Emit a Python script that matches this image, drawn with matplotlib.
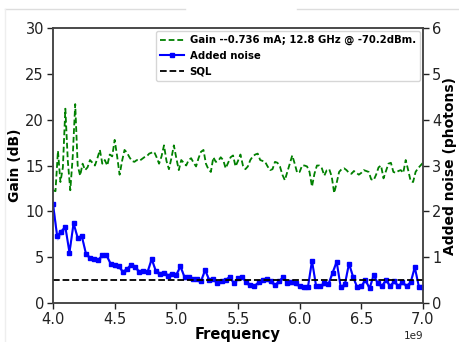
import numpy as np
import matplotlib
matplotlib.use("Agg")
import matplotlib.pyplot as plt
from matplotlib.lines import Line2D

# gain trace, 4.00 .. 7.00 GHz every 20 MHz
gain_db = [
    12.3, 12.2, 16.6, 13.2, 14.8, 21.2, 15.5, 12.3, 16.0, 21.7,
    15.0, 13.9, 15.2, 14.5, 14.8, 15.6, 15.3, 15.0, 15.8, 16.7,
    15.2, 15.6, 15.0, 16.2, 16.0, 17.8, 16.0, 14.0, 15.5, 16.7,
    16.4, 15.9, 15.5, 15.4, 15.6, 15.5, 15.7, 15.9, 16.0, 16.3,
    16.4, 16.5, 15.9, 15.2, 16.0, 17.2, 15.5, 14.6, 15.8, 17.2,
    15.8, 14.5, 15.6, 15.3, 15.0, 15.6, 15.8, 15.3, 14.9, 15.8,
    16.5, 16.7, 15.2, 14.6, 14.3, 15.9, 15.4, 15.5, 15.9, 15.6,
    14.7, 15.3, 15.9, 16.1, 14.9, 15.5, 16.2, 15.0, 14.6, 14.9,
    15.6, 16.0, 16.2, 16.3, 15.6, 15.5, 15.4, 14.9, 14.5, 14.6,
    15.4, 15.3, 14.9, 14.0, 13.4, 14.3, 15.2, 16.1, 15.2, 14.2,
    14.3, 15.0, 15.0, 14.9, 14.3, 12.7, 14.1, 15.0, 15.0, 14.7,
    13.9, 14.5, 14.6, 13.8, 12.0, 13.1, 14.3, 14.6, 14.7, 14.5,
    14.2, 14.1, 14.4, 14.2, 14.0, 14.2, 14.5, 14.4, 14.3, 13.5,
    13.4, 14.0, 14.8, 15.0, 13.6, 14.4, 15.2, 15.3, 14.3, 14.2,
    14.4, 14.5, 14.2, 15.6, 14.5, 13.3, 13.2, 14.3, 14.7, 15.0,
    15.3,
]
gain_freq = np.linspace(4.0e9, 7.0e9, 151)

# added noise (photons), 4.00 .. 7.00 GHz every 33.3 MHz
noise_ph = [
    2.15, 1.46, 1.56, 1.66, 1.10, 1.74, 1.42, 1.46, 1.08, 0.98,
    0.96, 0.94, 1.04, 1.04, 0.86, 0.82, 0.80, 0.68, 0.74, 0.84,
    0.78, 0.68, 0.70, 0.68, 0.96, 0.70, 0.64, 0.66, 0.60, 0.64,
    0.62, 0.80, 0.56, 0.56, 0.52, 0.52, 0.48, 0.72, 0.50, 0.52,
    0.44, 0.48, 0.50, 0.57, 0.43, 0.54, 0.57, 0.45, 0.39, 0.37,
    0.45, 0.50, 0.52, 0.47, 0.39, 0.47, 0.57, 0.43, 0.45, 0.43,
    0.37, 0.34, 0.34, 0.92, 0.37, 0.37, 0.43, 0.41, 0.66, 0.90,
    0.34, 0.41, 0.86, 0.57, 0.34, 0.37, 0.50, 0.32, 0.61, 0.43,
    0.37, 0.50, 0.37, 0.47, 0.37, 0.45, 0.37, 0.45, 0.78, 0.36,
    0.36,
]
noise_freq = np.linspace(4.0e9, 7.0e9, 91)
noise_err = np.full(len(noise_ph), 0.05)
noise_err[:3] = [0.15, 0.10, 0.07]

sql_ph = 0.5
gain_label = "Gain --0.736 mA; 12.8 GHz @ -70.2dBm."

assert len(gain_db) == len(gain_freq)
assert len(noise_ph) == len(noise_freq)

fig = plt.figure(figsize=(4.59, 3.42), dpi=100)
ax = fig.add_axes([0.1155, 0.114, 0.806, 0.804])
ax2 = ax.twinx()

l1, = ax.plot(gain_freq, gain_db, "--", color="green", lw=1.3,
              dashes=(3.2, 1.6), label=gain_label)
noise = np.array(noise_ph)
ax2.fill_between(noise_freq, noise - noise_err, noise + noise_err,
                 color="#6a6aff", alpha=0.5, lw=0)
l2, = ax2.plot(noise_freq, noise, "-s", color="blue", lw=1.5, ms=3.2,
               label="Added noise")
l3 = ax2.axhline(sql_ph, color="black", ls="--", lw=1.3, label="SQL")

ax.set_xlim(4.0e9, 7.0e9)
ax.set_ylim(0, 30)
ax2.set_ylim(0, 6)
ax.set_xticks(np.arange(4.0e9, 7.01e9, 0.5e9))
ax.set_yticks(range(0, 31, 5))
ax2.set_yticks(range(0, 7))

for a in (ax, ax2):
    a.tick_params(labelsize=10.5, length=4, width=1, colors="#222222", pad=2.5)
    for s in a.spines.values():
        s.set_color("#444444")
        s.set_linewidth(1.1)
ax.xaxis.get_offset_text().set_fontsize(7.5)

ax.set_xlabel("Frequency", fontsize=10.5, fontweight="bold", labelpad=0)
ax.set_ylabel("Gain (dB)", fontsize=10, fontweight="bold", labelpad=2)
ax2.set_ylabel("Added noise (photons)", fontsize=10, fontweight="bold", labelpad=1)

leg = ax2.legend([l1, l2, l3], [l1.get_label(), l2.get_label(), l3.get_label()],
                 loc="upper right", prop={"size": 7.3, "weight": "bold"},
                 handlelength=2.3, handletextpad=0.6, borderpad=0.45,
                 labelspacing=0.55, borderaxespad=0.25,
                 bbox_to_anchor=(1.0, 1.0))
leg.get_frame().set_edgecolor("#cccccc")

# faint screenshot edge at the top
fig.add_artist(Line2D([0.011, 0.403], [0.973, 0.973], color="#dddddd", lw=1))
fig.add_artist(Line2D([0.647, 1.0], [0.973, 0.973], color="#dddddd", lw=1))
fig.add_artist(Line2D([0.011, 0.011], [0.0, 0.973], color="#eeeeee", lw=1))

fig.savefig("out.png", dpi=100)
